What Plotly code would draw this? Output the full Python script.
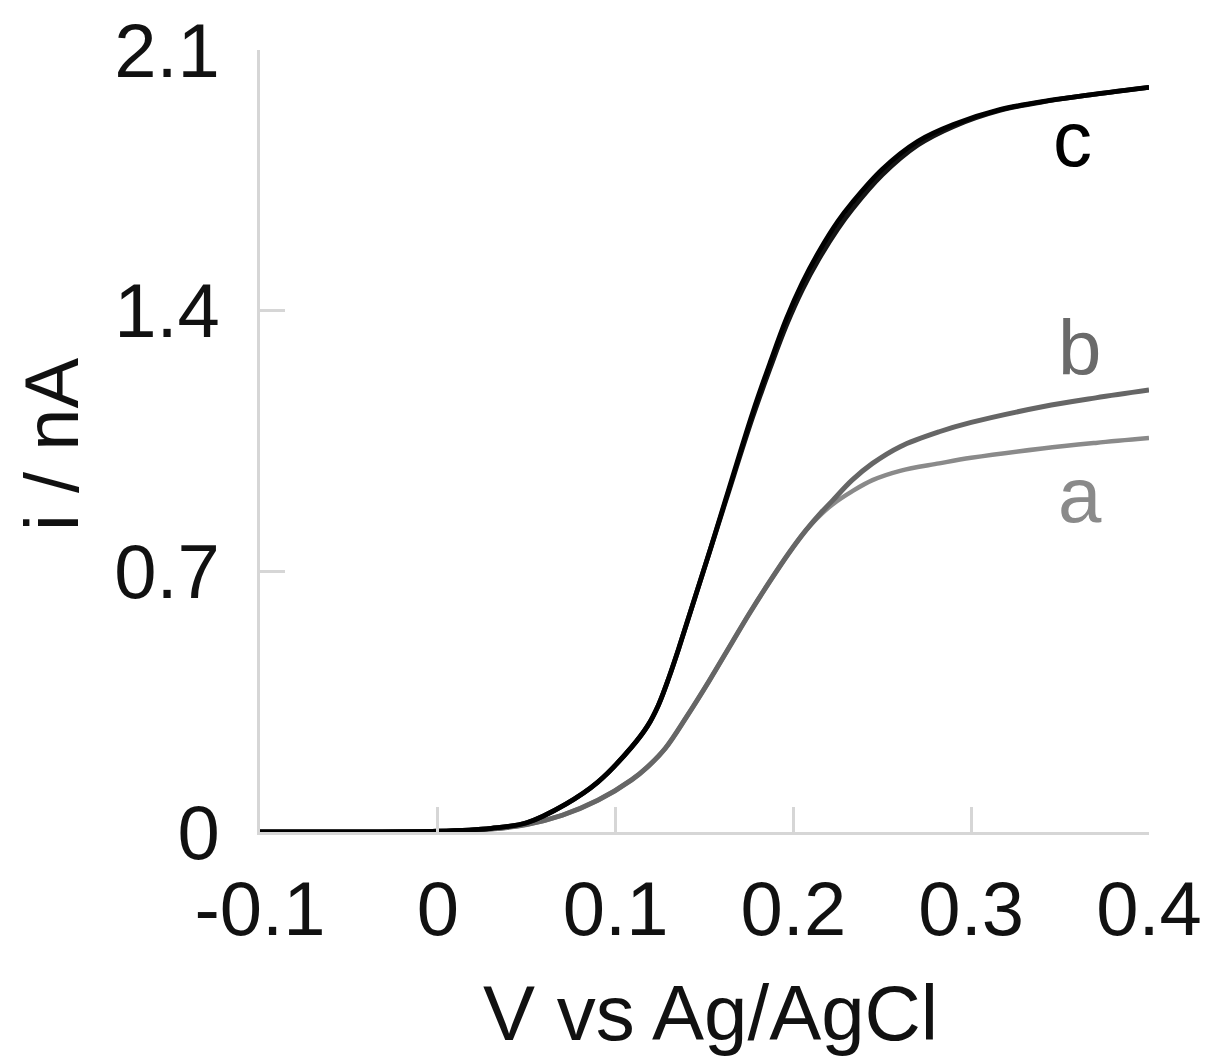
import plotly.graph_objects as go

# ---- data ----
v_c = [-0.1, -0.05, 0.0, 0.03, 0.05, 0.072, 0.09, 0.109, 0.118, 0.124, 0.13, 0.136, 0.143,
       0.152, 0.162, 0.177, 0.187, 0.196, 0.205, 0.2145, 0.225, 0.233, 0.25, 0.27, 0.29,
       0.316, 0.344, 0.37, 0.4]
i_c1 = [0.0, 0.0, 0.002, 0.01, 0.025, 0.075, 0.134, 0.228, 0.285, 0.34, 0.415, 0.50, 0.605,
        0.74, 0.895, 1.125, 1.262, 1.378, 1.475, 1.56, 1.64, 1.69, 1.78, 1.855, 1.90,
        1.94, 1.965, 1.982, 2.0]
i_c2 = [0.0, 0.0, 0.002, 0.01, 0.025, 0.075, 0.134, 0.228, 0.285, 0.34, 0.415, 0.50, 0.605,
        0.74, 0.89, 1.113, 1.247, 1.36, 1.456, 1.54, 1.62, 1.672, 1.765, 1.845, 1.895,
        1.938, 1.964, 1.982, 2.0]

v_a = [-0.1, -0.05, 0.0, 0.03, 0.05, 0.07, 0.09, 0.109, 0.118, 0.128, 0.14, 0.1525, 0.165,
       0.175, 0.187, 0.1976, 0.207, 0.216, 0.222, 0.233, 0.2445, 0.26, 0.282, 0.30, 0.34,
       0.37, 0.4]
i_a = [0.0, 0.0, 0.002, 0.008, 0.02, 0.045, 0.085, 0.14, 0.175, 0.225, 0.31, 0.405, 0.505,
       0.585, 0.675, 0.75, 0.81, 0.855, 0.88, 0.915, 0.945, 0.97, 0.99, 1.005, 1.03,
       1.045, 1.058]
v_b = v_a
i_b = [0.0, 0.0, 0.002, 0.008, 0.02, 0.045, 0.085, 0.14, 0.175, 0.225, 0.31, 0.405, 0.505,
       0.585, 0.675, 0.75, 0.81, 0.86, 0.89, 0.945, 0.99, 1.035, 1.075, 1.10, 1.142,
       1.166, 1.187]

x_ticks = [-0.1, 0, 0.1, 0.2, 0.3, 0.4]
x_ticktext = ["-0.1", "0", "0.1", "0.2", "0.3", "0.4"]
y_ticks = [0, 0.7, 1.4, 2.1]
y_ticktext = ["0", "0.7", "1.4", "2.1"]

curve_labels = ["a", "b", "c"]
label_v = [0.361, 0.361, 0.357]
label_i = [0.905, 1.30, 1.862]
label_colors = ["#8a8a8a", "#6a6a6a", "#000000"]

FONT = "Liberation Sans, Arial, sans-serif"
AXC = "#d6d6d6"

# plot frame in page pixels (page has an 8px body offset)
L, R, T, B = 252, 68, 42, 239
PW = 1209 - L - R
PH = 1063 - T - B

fig = go.Figure()
fig.add_trace(go.Scatter(x=v_a, y=i_a, mode="lines", line=dict(color="#8a8a8a", width=4.5, shape="spline", smoothing=1.0), name="a"))
fig.add_trace(go.Scatter(x=v_b, y=i_b, mode="lines", line=dict(color="#666666", width=5, shape="spline", smoothing=1.0), name="b"))
fig.add_trace(go.Scatter(x=v_c, y=i_c2, mode="lines", line=dict(color="#151515", width=4.8, shape="spline", smoothing=1.0), name="c (reverse)"))
fig.add_trace(go.Scatter(x=v_c, y=i_c1, mode="lines", line=dict(color="#000000", width=4.8, shape="spline", smoothing=1.0), name="c"))

for t, xv, yv, col in zip(curve_labels, label_v, label_i, label_colors):
    fig.add_annotation(x=xv, y=yv, text=t, showarrow=False, xanchor="center", yanchor="middle",
                       font=dict(family=FONT, size=78, color=col))

# axis titles (page pixel targets converted to paper coords)
fig.add_annotation(xref="paper", yref="paper", x=(51 - 8 - L) / PW, y=(PH + T + 8 - 445) / PH, text="i / nA",
                   textangle=-90, showarrow=False, xanchor="center", yanchor="middle",
                   font=dict(family=FONT, size=76, color="#111111"))
fig.add_annotation(xref="paper", yref="paper", x=(710 - 8 - L) / PW, y=(PH + T + 8 - 1013) / PH, text="V vs Ag/AgCl",
                   showarrow=False, xanchor="center", yanchor="middle",
                   font=dict(family=FONT, size=78, color="#111111"))

fig.update_layout(
    width=1209, height=1063,
    margin=dict(l=L, r=R, t=T, b=B),
    paper_bgcolor="white", plot_bgcolor="white",
    showlegend=False,
    font=dict(family=FONT, size=76, color="#111111"),
)
fig.update_xaxes(range=[-0.1, 0.4], tickvals=x_ticks, ticktext=x_ticktext, automargin=False,
                 showgrid=False, zeroline=False, showline=True, linecolor=AXC, linewidth=3,
                 ticks="inside", ticklen=25, tickwidth=2.5, tickcolor=AXC,
                 ticklabelstandoff=9, ticklabeloverflow="allow",
                 tickfont=dict(family=FONT, size=76, color="#111111"))
fig.update_yaxes(range=[0, 2.1003], tickvals=y_ticks, ticktext=y_ticktext, automargin=False,
                 showgrid=False, zeroline=False, showline=True, linecolor=AXC, linewidth=3,
                 ticks="inside", ticklen=25, tickwidth=2.5, tickcolor=AXC,
                 ticklabelstandoff=22, ticklabeloverflow="allow",
                 tickfont=dict(family=FONT, size=76, color="#111111"))

fig.write_html("out.html")
